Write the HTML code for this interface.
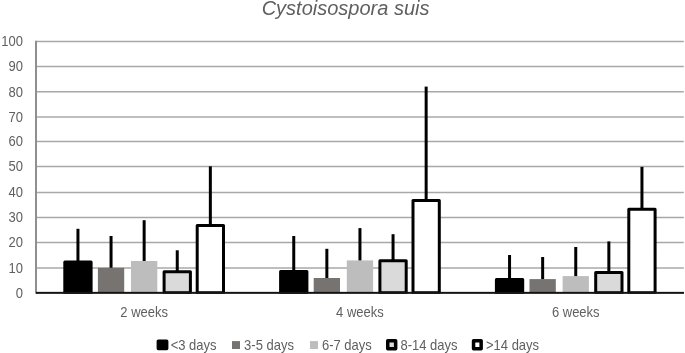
<!DOCTYPE html>
<html><head><meta charset="utf-8"><style>
html,body{margin:0;padding:0;background:#fff;width:685px;height:353px;overflow:hidden}
svg{display:block;will-change:transform}
.t{font-family:"Liberation Sans",sans-serif;font-size:13px;fill:#5f5f5f}
</style></head><body>
<svg width="685" height="353" viewBox="0 0 685 353" xmlns="http://www.w3.org/2000/svg">
<rect width="685" height="353" fill="#fff"/>
<line x1="37" y1="268.00" x2="683.8" y2="268.00" stroke="#a8a8a8" stroke-width="1.6"/>
<line x1="37" y1="242.50" x2="683.8" y2="242.50" stroke="#a8a8a8" stroke-width="1.6"/>
<line x1="37" y1="217.50" x2="683.8" y2="217.50" stroke="#a8a8a8" stroke-width="1.6"/>
<line x1="37" y1="192.50" x2="683.8" y2="192.50" stroke="#a8a8a8" stroke-width="1.6"/>
<line x1="37" y1="166.50" x2="683.8" y2="166.50" stroke="#a8a8a8" stroke-width="1.6"/>
<line x1="37" y1="141.50" x2="683.8" y2="141.50" stroke="#a8a8a8" stroke-width="1.6"/>
<line x1="37" y1="117.00" x2="683.8" y2="117.00" stroke="#a8a8a8" stroke-width="1.6"/>
<line x1="37" y1="91.70" x2="683.8" y2="91.70" stroke="#a8a8a8" stroke-width="1.6"/>
<line x1="37" y1="66.50" x2="683.8" y2="66.50" stroke="#a8a8a8" stroke-width="1.6"/>
<line x1="37" y1="41.50" x2="683.8" y2="41.50" stroke="#a8a8a8" stroke-width="1.6"/>
<text transform="translate(23.0,297.85) scale(1,1.1)" text-anchor="end" class="t">0</text>
<text transform="translate(23.0,272.95) scale(1,1.1)" text-anchor="end" class="t">10</text>
<text transform="translate(23.0,247.45) scale(1,1.1)" text-anchor="end" class="t">20</text>
<text transform="translate(23.0,222.45) scale(1,1.1)" text-anchor="end" class="t">30</text>
<text transform="translate(23.0,197.45) scale(1,1.1)" text-anchor="end" class="t">40</text>
<text transform="translate(23.0,171.45) scale(1,1.1)" text-anchor="end" class="t">50</text>
<text transform="translate(23.0,146.45) scale(1,1.1)" text-anchor="end" class="t">60</text>
<text transform="translate(23.0,121.95) scale(1,1.1)" text-anchor="end" class="t">70</text>
<text transform="translate(23.0,96.65) scale(1,1.1)" text-anchor="end" class="t">80</text>
<text transform="translate(23.0,71.45) scale(1,1.1)" text-anchor="end" class="t">90</text>
<text transform="translate(23.0,46.45) scale(1,1.1)" text-anchor="end" class="t">100</text>
<rect x="35" y="40.7" width="2" height="253" fill="#8f8f8f"/>
<defs><clipPath id="pa"><rect x="0" y="0" width="685" height="293.85"/></clipPath></defs><g clip-path="url(#pa)">
<rect x="64.80" y="262.00" width="26.3" height="30.70" fill="#000000" stroke="#000" stroke-width="3" stroke-linejoin="round"/>
<rect x="97.90" y="267.80" width="26.3" height="24.90" fill="#767371"/>
<rect x="131.00" y="261.00" width="26.3" height="31.70" fill="#bdbdbd"/>
<rect x="164.10" y="271.80" width="26.3" height="20.90" fill="#dadada" stroke="#000" stroke-width="3" stroke-linejoin="round"/>
<rect x="197.20" y="225.50" width="26.3" height="67.20" fill="#ffffff" stroke="#000" stroke-width="3" stroke-linejoin="round"/>
<rect x="280.60" y="271.50" width="26.3" height="21.20" fill="#000000" stroke="#000" stroke-width="3" stroke-linejoin="round"/>
<rect x="313.70" y="278.00" width="26.3" height="14.70" fill="#767371"/>
<rect x="346.80" y="260.40" width="26.3" height="32.30" fill="#bdbdbd"/>
<rect x="379.90" y="260.80" width="26.3" height="31.90" fill="#dadada" stroke="#000" stroke-width="3" stroke-linejoin="round"/>
<rect x="413.00" y="200.50" width="26.3" height="92.20" fill="#ffffff" stroke="#000" stroke-width="3" stroke-linejoin="round"/>
<rect x="496.40" y="279.60" width="26.3" height="13.10" fill="#000000" stroke="#000" stroke-width="3" stroke-linejoin="round"/>
<rect x="529.50" y="279.10" width="26.3" height="13.60" fill="#767371"/>
<rect x="562.60" y="276.10" width="26.3" height="16.60" fill="#bdbdbd"/>
<rect x="595.70" y="272.60" width="26.3" height="20.10" fill="#dadada" stroke="#000" stroke-width="3" stroke-linejoin="round"/>
<rect x="628.80" y="209.20" width="26.3" height="83.50" fill="#ffffff" stroke="#000" stroke-width="3" stroke-linejoin="round"/>
</g>
<line x1="77.95" y1="262.00" x2="77.95" y2="228.80" stroke="#000" stroke-width="3"/>
<line x1="111.05" y1="267.80" x2="111.05" y2="236.00" stroke="#000" stroke-width="3"/>
<line x1="144.15" y1="261.00" x2="144.15" y2="220.20" stroke="#000" stroke-width="3"/>
<line x1="177.25" y1="271.80" x2="177.25" y2="250.30" stroke="#000" stroke-width="3"/>
<line x1="210.35" y1="225.50" x2="210.35" y2="166.30" stroke="#000" stroke-width="3"/>
<line x1="293.75" y1="271.50" x2="293.75" y2="236.00" stroke="#000" stroke-width="3"/>
<line x1="326.85" y1="278.00" x2="326.85" y2="248.80" stroke="#000" stroke-width="3"/>
<line x1="359.95" y1="260.40" x2="359.95" y2="228.10" stroke="#000" stroke-width="3"/>
<line x1="393.05" y1="260.80" x2="393.05" y2="234.20" stroke="#000" stroke-width="3"/>
<line x1="426.15" y1="200.50" x2="426.15" y2="86.60" stroke="#000" stroke-width="3"/>
<line x1="509.55" y1="279.60" x2="509.55" y2="255.00" stroke="#000" stroke-width="3"/>
<line x1="542.65" y1="279.10" x2="542.65" y2="257.00" stroke="#000" stroke-width="3"/>
<line x1="575.75" y1="276.10" x2="575.75" y2="247.00" stroke="#000" stroke-width="3"/>
<line x1="608.85" y1="272.60" x2="608.85" y2="241.40" stroke="#000" stroke-width="3"/>
<line x1="641.95" y1="209.20" x2="641.95" y2="166.90" stroke="#000" stroke-width="3"/>
<rect x="36" y="291.85" width="648" height="2" fill="#141414"/>
<text transform="translate(144.15,316.8) scale(1,1.1)" text-anchor="middle" class="t">2 weeks</text>
<text transform="translate(359.95,316.8) scale(1,1.1)" text-anchor="middle" class="t">4 weeks</text>
<text transform="translate(575.75,316.8) scale(1,1.1)" text-anchor="middle" class="t">6 weeks</text>
<text x="345.6" y="14.7" text-anchor="middle" class="t" style="font-style:italic;font-size:20px">Cystoisospora suis</text>
<rect x="158.2" y="341.0" width="8.6" height="7.6" fill="#000" stroke="#000" stroke-width="3.2" stroke-linejoin="round"/>
<text transform="translate(170.7,349.5) scale(1,1.1)" class="t">&lt;3 days</text>
<rect x="232" y="341.1" width="8" height="7.9" fill="#767371"/>
<text transform="translate(244.1,349.5) scale(1,1.1)" class="t">3-5 days</text>
<rect x="310" y="341.1" width="8" height="7.9" fill="#bdbdbd"/>
<text transform="translate(321.9,349.5) scale(1,1.1)" class="t">6-7 days</text>
<rect x="387.75" y="340.75" width="7.9" height="7.9" fill="#dadada" stroke="#000" stroke-width="3.5" stroke-linejoin="round"/>
<text transform="translate(400.4,349.5) scale(1,1.1)" class="t">8-14 days</text>
<rect x="473.55" y="340.75" width="7.6" height="7.9" fill="#fff" stroke="#000" stroke-width="3.5" stroke-linejoin="round"/>
<text transform="translate(486,349.5) scale(1,1.1)" class="t">&gt;14 days</text>
</svg>
</body></html>
